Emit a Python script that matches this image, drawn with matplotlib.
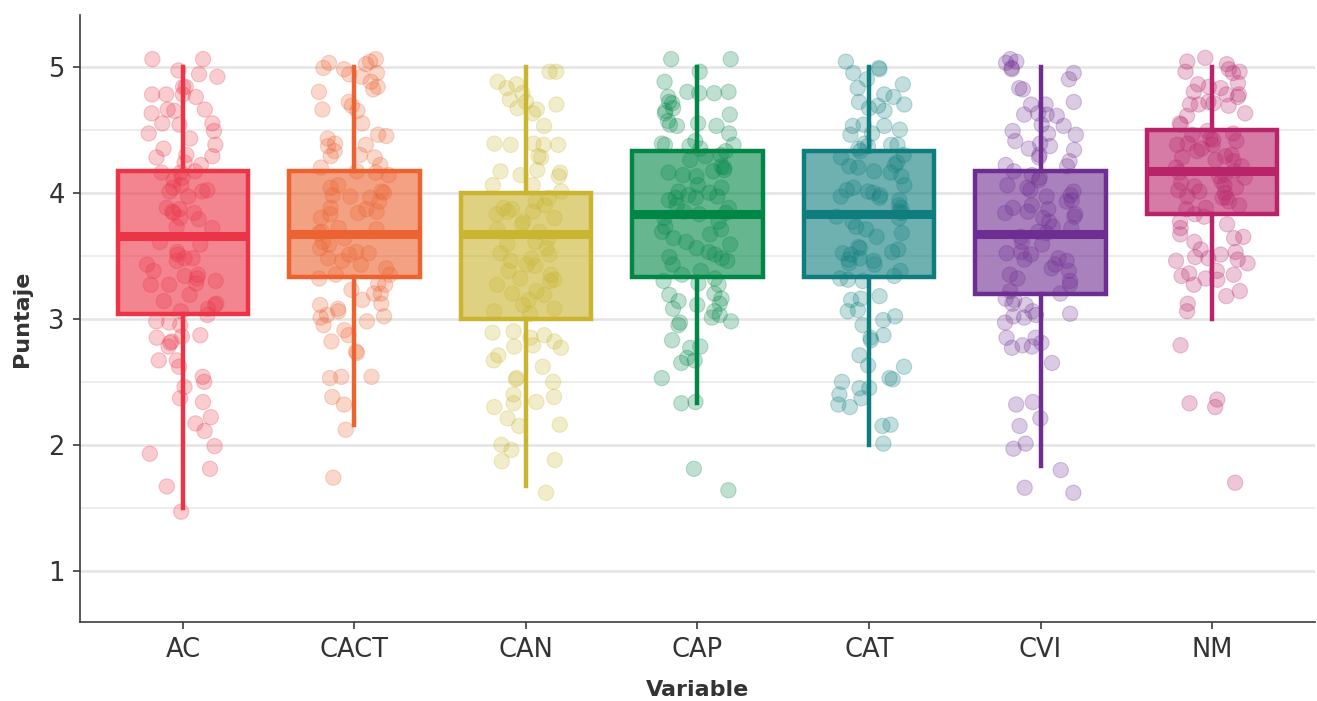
import matplotlib as mpl
mpl.use('Agg')
import matplotlib.pyplot as plt
import numpy as np
import pandas as pd
import seaborn as sns

plt.rcParams['font.family'] = ['DejaVu Sans']

categories = ['AC', 'CACT', 'CAN', 'CAP', 'CAT', 'CVI', 'NM']
colors = ['#EB3446', '#EC6230', '#C9B52F', '#008746', '#0F7D7D', '#6E2D91', '#B92369']

# box stats: lower whisker, q1, median, q3, upper whisker
whislo = [1.50, 2.16, 1.67, 2.33, 2.00, 1.83, 3.00]
q1 = [3.04, 3.33, 3.00, 3.33, 3.33, 3.20, 3.83]
med = [3.66, 3.67, 3.67, 3.83, 3.83, 3.67, 4.17]
q3 = [4.17, 4.17, 4.00, 4.33, 4.33, 4.17, 4.50]
whishi = [5.00, 5.00, 5.00, 5.00, 5.00, 5.00, 5.00]

# individual scores (as they appear, including the vertical jitter)
ac = [5.06, 5.06, 4.97, 4.94, 4.92, 4.84, 4.84, 4.78, 4.78, 4.78, 4.76, 4.66, 4.65, 4.63, 4.66,
      4.55, 4.55, 4.54, 4.49, 4.47, 4.43, 4.38, 4.35, 4.30, 4.29, 4.28, 4.24, 4.22, 4.17, 4.16,
      4.16, 4.12, 4.10, 4.06, 4.04, 4.02, 4.01, 4.01, 3.97, 3.88, 3.87, 3.85, 3.84, 3.84, 3.80,
      3.79, 3.73, 3.72, 3.61, 3.59, 3.53, 3.51, 3.48, 3.48, 3.46, 3.43, 3.38, 3.35, 3.34, 3.32,
      3.30, 3.28, 3.27, 3.27, 3.19, 3.14, 3.12, 3.11, 3.08, 3.06, 3.03, 2.98, 2.97, 2.95, 2.87,
      2.86, 2.85, 2.82, 2.81, 2.78, 2.67, 2.67, 2.62, 2.54, 2.50, 2.46, 2.37, 2.34, 2.22, 2.17,
      2.11, 1.99, 1.93, 1.81, 1.67, 1.47]
cact = [5.06, 5.04, 5.03, 5.02, 4.99, 4.98, 4.95, 4.94, 4.92, 4.88, 4.84, 4.82, 4.80, 4.72, 4.69,
        4.66, 4.65, 4.55, 4.46, 4.45, 4.43, 4.39, 4.38, 4.37, 4.33, 4.30, 4.29, 4.28, 4.22, 4.20,
        4.17, 4.16, 4.14, 4.06, 4.04, 4.01, 4.00, 3.98, 3.97, 3.96, 3.93, 3.88, 3.87, 3.85, 3.84,
        3.83, 3.80, 3.72, 3.71, 3.69, 3.68, 3.64, 3.61, 3.59, 3.56, 3.53, 3.52, 3.51, 3.48, 3.46,
        3.43, 3.40, 3.35, 3.35, 3.32, 3.28, 3.27, 3.23, 3.20, 3.20, 3.15, 3.12, 3.11, 3.08, 3.06,
        3.03, 3.02, 3.01, 2.98, 2.95, 2.91, 2.87, 2.82, 2.74, 2.73, 2.54, 2.54, 2.53, 2.38, 2.32,
        2.12, 1.74]
can = [4.96, 4.96, 4.88, 4.86, 4.83, 4.79, 4.74, 4.72, 4.70, 4.67, 4.66, 4.63, 4.53, 4.39, 4.38,
       4.38, 4.39, 4.38, 4.29, 4.28, 4.18, 4.17, 4.16, 4.13, 4.14, 4.06, 4.06, 4.01, 3.96, 3.93,
       3.90, 3.88, 3.87, 3.85, 3.85, 3.83, 3.80, 3.77, 3.75, 3.71, 3.69, 3.64, 3.61, 3.59, 3.56,
       3.52, 3.51, 3.48, 3.46, 3.43, 3.42, 3.38, 3.35, 3.32, 3.31, 3.30, 3.27, 3.22, 3.20, 3.19,
       3.15, 3.11, 3.08, 3.06, 3.04, 2.90, 2.89, 2.87, 2.85, 2.82, 2.79, 2.78, 2.77, 2.71, 2.67,
       2.62, 2.53, 2.52, 2.50, 2.40, 2.38, 2.34, 2.33, 2.30, 2.21, 2.16, 2.15, 2.00, 1.96, 1.88,
       1.87, 1.62]
cap = [5.06, 5.06, 4.96, 4.88, 4.80, 4.80, 4.79, 4.79, 4.76, 4.72, 4.71, 4.67, 4.65, 4.63, 4.62,
       4.57, 4.55, 4.54, 4.53, 4.53, 4.47, 4.41, 4.39, 4.38, 4.38, 4.37, 4.35, 4.33, 4.30, 4.29,
       4.26, 4.21, 4.20, 4.18, 4.17, 4.16, 4.14, 4.13, 4.06, 4.04, 4.01, 4.00, 3.98, 3.97, 3.96,
       3.96, 3.94, 3.90, 3.88, 3.85, 3.84, 3.83, 3.80, 3.77, 3.73, 3.71, 3.69, 3.67, 3.64, 3.61,
       3.59, 3.56, 3.53, 3.51, 3.49, 3.48, 3.46, 3.43, 3.38, 3.35, 3.32, 3.30, 3.28, 3.27, 3.20,
       3.19, 3.16, 3.14, 3.12, 3.11, 3.08, 3.06, 3.03, 3.01, 2.98, 2.97, 2.95, 2.83, 2.78, 2.77,
       2.69, 2.67, 2.65, 2.53, 2.34, 2.33, 1.81, 1.64]
cat = [5.04, 4.99, 4.98, 4.95, 4.90, 4.86, 4.83, 4.78, 4.76, 4.72, 4.70, 4.69, 4.67, 4.65, 4.54,
       4.53, 4.53, 4.50, 4.47, 4.46, 4.39, 4.38, 4.38, 4.37, 4.35, 4.33, 4.30, 4.28, 4.24, 4.22,
       4.21, 4.20, 4.17, 4.16, 4.13, 4.06, 4.04, 4.02, 4.01, 4.00, 3.98, 3.97, 3.96, 3.94, 3.90,
       3.88, 3.85, 3.84, 3.81, 3.80, 3.77, 3.73, 3.71, 3.68, 3.65, 3.57, 3.56, 3.55, 3.53, 3.52,
       3.51, 3.48, 3.47, 3.46, 3.44, 3.43, 3.38, 3.34, 3.32, 3.31, 3.30, 3.18, 3.16, 3.15, 3.07,
       3.06, 3.02, 2.99, 2.95, 2.87, 2.85, 2.83, 2.71, 2.63, 2.62, 2.53, 2.52, 2.50, 2.45, 2.45,
       2.40, 2.37, 2.32, 2.30, 2.16, 2.15, 2.01]
cvi = [5.06, 5.04, 5.03, 4.99, 4.98, 4.95, 4.90, 4.83, 4.82, 4.72, 4.70, 4.70, 4.63, 4.62, 4.62,
       4.61, 4.54, 4.53, 4.49, 4.47, 4.46, 4.41, 4.39, 4.37, 4.35, 4.34, 4.30, 4.28, 4.25, 4.22,
       4.21, 4.17, 4.14, 4.12, 4.10, 4.06, 4.04, 4.02, 4.01, 3.98, 3.97, 3.94, 3.93, 3.90, 3.88,
       3.87, 3.85, 3.84, 3.83, 3.81, 3.80, 3.77, 3.73, 3.72, 3.69, 3.68, 3.65, 3.61, 3.59, 3.53,
       3.52, 3.51, 3.48, 3.47, 3.46, 3.43, 3.40, 3.38, 3.35, 3.32, 3.30, 3.27, 3.22, 3.20, 3.16,
       3.15, 3.12, 3.11, 3.06, 3.04, 3.03, 3.02, 3.01, 2.97, 2.85, 2.85, 2.81, 2.79, 2.78, 2.77,
       2.65, 2.34, 2.32, 2.21, 2.15, 2.01, 1.97, 1.80, 1.66, 1.62]
nm = [5.07, 5.04, 5.02, 4.98, 4.96, 4.96, 4.95, 4.87, 4.86, 4.84, 4.83, 4.80, 4.78, 4.78, 4.76,
      4.72, 4.71, 4.70, 4.70, 4.69, 4.63, 4.61, 4.55, 4.54, 4.49, 4.47, 4.46, 4.43, 4.42, 4.41,
      4.39, 4.38, 4.38, 4.35, 4.33, 4.30, 4.29, 4.28, 4.26, 4.25, 4.21, 4.20, 4.17, 4.16, 4.14,
      4.13, 4.12, 4.09, 4.08, 4.06, 4.05, 4.04, 4.02, 4.01, 4.00, 3.97, 3.96, 3.96, 3.93, 3.90,
      3.88, 3.87, 3.83, 3.81, 3.77, 3.75, 3.72, 3.67, 3.65, 3.64, 3.61, 3.55, 3.53, 3.51, 3.49,
      3.48, 3.47, 3.46, 3.44, 3.38, 3.36, 3.35, 3.34, 3.32, 3.31, 3.27, 3.22, 3.18, 3.12, 3.06,
      2.79, 2.36, 2.33, 2.30, 1.70]

scores = [ac, cact, can, cap, cat, cvi, nm]

df = pd.DataFrame({
    'Variable': np.repeat(categories, [len(s) for s in scores]),
    'Puntaje': np.concatenate(scores),
})

fig = plt.figure(figsize=(13.17, 7.01), dpi=100)
ax = fig.add_axes([80 / 1317, 1 - 622 / 701, 1235 / 1317, (622 - 15) / 701])

# grid
ax.set_axisbelow(True)
ax.set_yticks([1, 2, 3, 4, 5])
ax.set_yticks([1.5, 2.5, 3.5, 4.5], minor=True)
ax.grid(True, which='major', color='#E4E4E4', lw=1.8)
ax.grid(True, which='minor', axis='y', color='#EDEDED', lw=1.4)

stats = []
for i in range(len(categories)):
    stats.append({'whislo': whislo[i], 'q1': q1[i], 'med': med[i],
                  'q3': q3[i], 'whishi': whishi[i], 'fliers': []})

bp = ax.bxp(stats, positions=range(len(categories)), widths=0.76,
            patch_artist=True, showcaps=False, showfliers=False)
for i, c in enumerate(colors):
    box = bp['boxes'][i]
    box.set_facecolor(mpl.colors.to_rgba(c, 0.6))
    box.set_edgecolor(c)
    box.set_linewidth(3.2)
    box.set_zorder(2)
    bp['medians'][i].set_color(c)
    bp['medians'][i].set_linewidth(6.5)
    bp['medians'][i].set_solid_capstyle('butt')
    bp['medians'][i].set_zorder(2.5)
    for w in bp['whiskers'][2 * i:2 * i + 2]:
        w.set_color(c)
        w.set_linewidth(3.2)
        w.set_zorder(2)

np.random.seed(7)
sns.stripplot(data=df, x='Variable', y='Puntaje', hue='Variable',
              palette=colors, jitter=0.21, size=11, alpha=0.25,
              linewidth=0.8, edgecolor='face', legend=False, ax=ax, zorder=3)

ax.set_xlim(-0.6, 6.6)
ax.set_ylim(0.595, 5.41)
ax.set_xticks(range(len(categories)))
ax.set_xticklabels(categories)

for side in ['top', 'right']:
    ax.spines[side].set_visible(False)
for side in ['left', 'bottom']:
    ax.spines[side].set_color('#3C3C3C')
    ax.spines[side].set_linewidth(1.2)

ax.tick_params(axis='both', which='major', length=5, width=1.2, color='#3C3C3C',
               labelsize=18.5, labelcolor='#333333', pad=6)
ax.tick_params(axis='y', which='minor', length=0)

ax.set_xlabel('Variable', fontsize=16, fontweight='bold', color='#333333', labelpad=12)
ax.set_ylabel('Puntaje', fontsize=16, fontweight='bold', color='#333333', labelpad=12)

fig.savefig('out.png', dpi=100)
